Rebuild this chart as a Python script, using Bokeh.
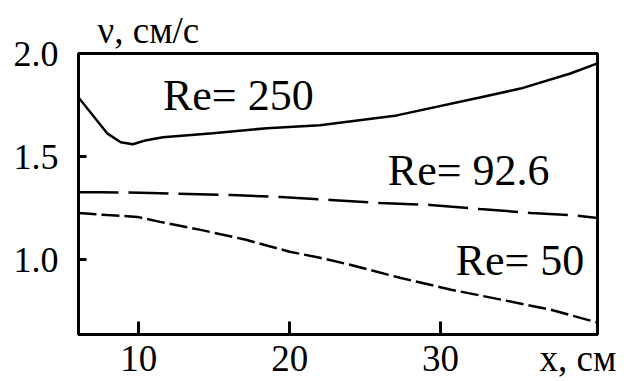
from bokeh.plotting import figure
from bokeh.models import Range1d, Label, FixedTicker, LinearAxis
from bokeh.embed import file_html
from bokeh.resources import INLINE

# Re = 250 (solid)
x250 = [6.0, 7.9, 8.8, 9.6, 10.5, 11.6, 14.9, 18.5, 22.0, 27.1, 32.6, 35.3, 38.6, 40.4]
y250 = [1.787, 1.613, 1.570, 1.560, 1.580, 1.594, 1.614, 1.638, 1.652, 1.700, 1.787, 1.830, 1.903, 1.952]

# Re = 92.6 (long dashes)
x926 = [6.0, 7.5, 10.8, 16.1, 19.4, 22.7, 26.0, 29.3, 32.6, 36.0, 38.6, 40.4]
y926 = [1.328, 1.328, 1.324, 1.314, 1.304, 1.290, 1.275, 1.266, 1.246, 1.227, 1.217, 1.203]

# Re = 50 (short dashes)
x50 = [6.0, 7.9, 9.9, 11.4, 14.1, 17.1, 20.0, 22.0, 24.0, 27.3, 30.7, 34.0, 37.3, 40.4]
y50 = [1.227, 1.217, 1.208, 1.184, 1.145, 1.097, 1.039, 1.010, 0.976, 0.913, 0.855, 0.807, 0.758, 0.696]

x_ticks = [10, 20, 30]
x_title_pos = 39.1
x_title = "x, см"
y_ticks = [1.0, 1.5, 2.0]
y_tick_labels = ["1.0", "1.5", "2.0"]
y_title = "ν, см/с"

curve_labels = ["Re= 250", "Re= 92.6", "Re= 50"]
label_x = [11.6, 26.5, 31.0]
label_y = [1.797, 1.435, 0.995]

FONT = "Liberation Serif"

p = figure(width=638, height=381, output_backend="svg", toolbar_location=None,
           x_range=Range1d(6.0, 40.4), y_range=Range1d(0.638, 2.0),
           min_border_left=78, min_border_right=41, min_border_top=53, min_border_bottom=46)
p.background_fill_color = "white"
p.border_fill_color = "white"
p.grid.visible = False
p.outline_line_color = "black"
p.outline_line_width = 3

# title used as the y-axis caption above the frame
p.title.text = y_title
p.title.align = "left"
p.title.offset = 19
p.title.standoff = 6
p.title.text_font = FONT
p.title.text_font_size = "37px"
p.title.text_font_style = "normal"
p.title.text_color = "black"

# main x-axis: tick marks only
p.xaxis.ticker = FixedTicker(ticks=x_ticks)
p.xaxis.major_label_text_font_size = "1px"
p.xaxis.major_label_text_color = None
p.xaxis.major_label_standoff = 0
p.xaxis.major_tick_in = 13

p.yaxis.ticker = FixedTicker(ticks=y_ticks)
p.yaxis.major_label_overrides = {t: s for t, s in zip(y_ticks, y_tick_labels)}
p.yaxis.major_tick_in = 8
p.yaxis.major_label_standoff = 20
p.yaxis.major_label_text_font = FONT
p.yaxis.major_label_text_font_size = "36px"
p.yaxis.major_label_text_color = "black"

for ax in (p.xaxis, p.yaxis):
    ax.axis_line_width = 3
    ax.axis_line_color = "black"
    ax.major_tick_line_width = 3
    ax.major_tick_line_color = "black"
    ax.major_tick_out = 0
    ax.minor_tick_in = 0
    ax.minor_tick_out = 0

# secondary x-axis: tick labels and caption
ax2 = LinearAxis(ticker=FixedTicker(ticks=x_ticks + [x_title_pos]),
                 major_label_overrides={x_title_pos: x_title},
                 axis_line_color=None, major_tick_line_color=None,
                 minor_tick_line_color=None, major_tick_in=0, major_tick_out=0,
                 minor_tick_in=0, minor_tick_out=0,
                 major_label_standoff=3, major_label_text_font=FONT,
                 major_label_text_font_size="37px", major_label_text_color="black")
p.add_layout(ax2, "below")

p.line(x250, y250, line_color="black", line_width=2.5)
p.line(x926, y926, line_color="black", line_width=2.5, line_dash="40 10")
p.line(x50, y50, line_color="black", line_width=2.5, line_dash="18 5")

for t, lx, ly in zip(curve_labels, label_x, label_y):
    p.add_layout(Label(x=lx, y=ly, text=t, text_font=FONT, text_font_size="44px",
                       text_baseline="middle", text_align="left", text_color="black"))

open("out.html", "w").write(file_html(p, INLINE))
